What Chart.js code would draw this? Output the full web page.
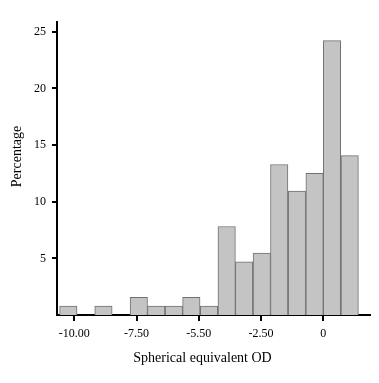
<!DOCTYPE html>
<html>
<head>
<meta charset="utf-8">
<script src="https://cdn.jsdelivr.net/npm/chart.js@4/dist/chart.umd.min.js"></script>
<style>
html,body{margin:0;padding:0;background:#fff;}
#wrap{width:379px;height:383px;}
</style>
</head>
<body>
<div id="wrap"><canvas id="c" width="379" height="383"></canvas></div>
<script>
// Histogram bins: centres of each bin (dioptres) and percentage of eyes per bin
const binCenters = [-10.24, -9.53, -8.83, -8.12, -7.41, -6.71, -6.00, -5.30, -4.59, -3.88, -3.18, -2.47, -1.77, -1.06, -0.35, 0.35, 1.06];
const percentages = [0.78, 0, 0.78, 0, 1.56, 0.78, 0.78, 1.56, 0.78, 7.81, 4.69, 5.47, 13.28, 10.94, 12.5, 24.22, 14.06];
const xTickValues = [-10, -7.5, -5, -2.5, 0];
const xTickLabels = ['-10.00', '-7.50', '-5.50', '-2.50', '0'];
const yTickValues = [5, 10, 15, 20, 25];
const xTitle = 'Spherical equivalent OD';
const yTitle = 'Percentage';

const serif = "'Liberation Serif', 'Times New Roman', serif";

// shift an axis title slightly (the original centres its titles off the plot centre)
function shiftTitle(s, side, amount) {
  if (s._titleShifted) return;
  const orig = s.drawTitle;
  s.drawTitle = function () {
    const keep = this[side];
    this[side] = keep - amount;
    orig.call(this);
    this[side] = keep;
  };
  s._titleShifted = true;
}

new Chart(document.getElementById('c'), {
  type: 'bar',
  data: {
    datasets: [{
      data: binCenters.map((x, i) => ({x: x, y: percentages[i]})),
      backgroundColor: '#c4c4c4',
      borderColor: '#707070',
      borderWidth: 1,
      borderSkipped: 'bottom',
      barPercentage: 1,
      categoryPercentage: 1
    }]
  },
  options: {
    responsive: false,
    animation: false,
    events: [],
    layout: {padding: {left: 0, right: 9, top: 22, bottom: 0}},
    plugins: {legend: {display: false}, tooltip: {enabled: false}},
    scales: {
      x: {
        type: 'linear',
        offset: false,
        min: -10.695,
        max: 1.876,
        afterBuildTicks: s => { s.ticks = xTickValues.map(v => ({value: v})); },
        afterFit: s => { s.height = 68; shiftTitle(s, 'right', 22); },
        grid: {display: true, offset: false, drawOnChartArea: false, drawTicks: true, tickLength: 6, tickColor: '#000', lineWidth: 2},
        border: {display: true, color: '#000', width: 2},
        ticks: {
          color: '#000',
          font: {family: serif, size: 12},
          padding: 6,
          maxRotation: 0,
          autoSkip: false,
          callback: (v) => { const i = xTickValues.indexOf(v); return i >= 0 ? xTickLabels[i] : ''; }
        },
        title: {display: true, text: xTitle, color: '#000', font: {family: serif, size: 14}, padding: {top: 0, bottom: 16}}
      },
      y: {
        type: 'linear',
        min: 0,
        max: 25.86,
        afterBuildTicks: s => { s.ticks = yTickValues.map(v => ({value: v})); },
        afterFit: s => { s.width = 57; shiftTitle(s, 'bottom', 24); },
        grid: {display: true, drawOnChartArea: false, drawTicks: true, tickLength: 5, tickColor: '#000', lineWidth: 2},
        border: {display: true, color: '#000', width: 2},
        ticks: {
          color: '#000',
          font: {family: serif, size: 12},
          padding: 6,
          autoSkip: false
        },
        title: {display: true, text: yTitle, color: '#000', font: {family: serif, size: 14}, padding: {top: 9, bottom: 0}}
      }
    }
  }
});
</script>
</body>
</html>
